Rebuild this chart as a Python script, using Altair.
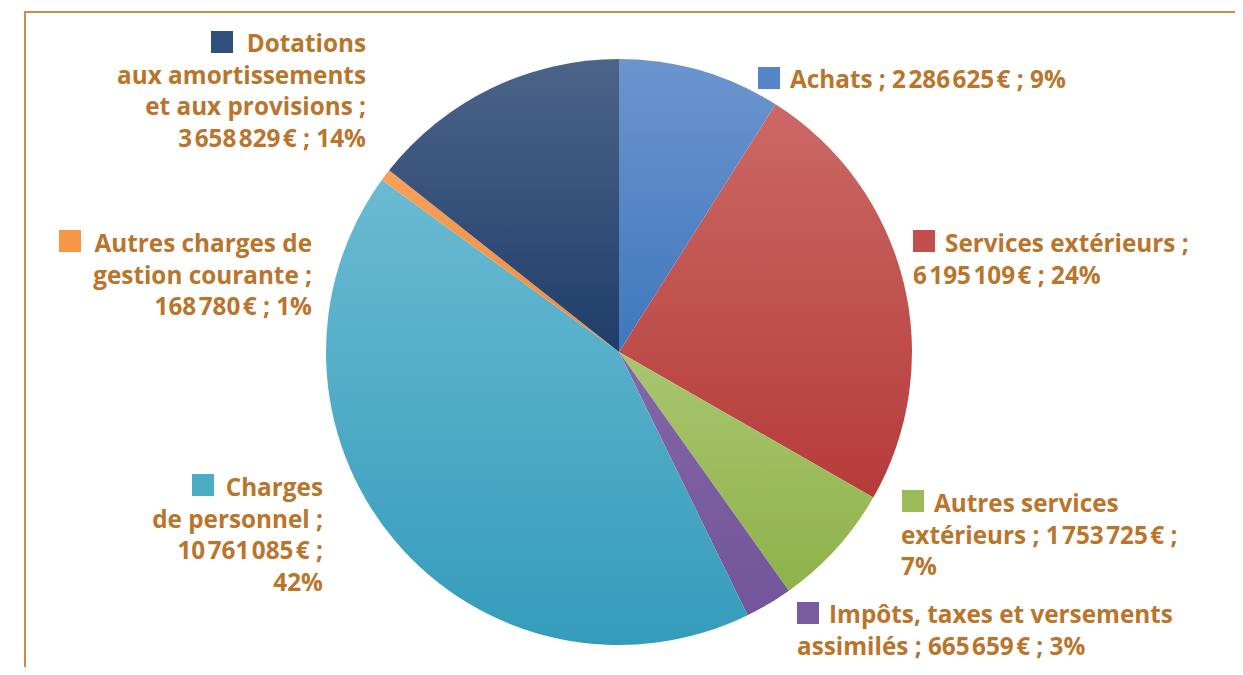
import altair as alt
import pandas as pd

# ---------------- data ----------------
categories = [
    "Achats",
    "Services extérieurs",
    "Autres services extérieurs",
    "Impôts, taxes et versements assimilés",
    "Charges de personnel",
    "Autres charges de gestion courante",
    "Dotations aux amortissements et aux provisions",
]
values = [2286625, 6195109, 1753725, 665659, 10761085, 168780, 3658829]
percents = ["9%", "24%", "7%", "3%", "42%", "1%", "14%"]

NS = " "       # space before semicolons
HS = "\u200a"  # hair space used as digit-group separator
label_lines = [
    [f"Achats{NS}; 2{HS}286{HS}625{HS}€{NS}; 9%"],
    [f"Services extérieurs{NS};", f"6{HS}195{HS}109{HS}€{NS}; 24%"],
    ["Autres services", f"extérieurs{NS}; 1{HS}753{HS}725{HS}€{NS};", "7%"],
    ["Impôts, taxes et versements", f"assimilés{NS}; 665{HS}659{HS}€{NS}; 3%"],
    ["Charges", f"de personnel{NS};", f"10{HS}761{HS}085{HS}€{NS};", "42%"],
    ["Autres charges de", f"gestion courante{NS};", f"168{HS}780{HS}€{NS}; 1%"],
    ["Dotations", "aux amortissements", f"et aux provisions{NS};", f"3{HS}658{HS}829{HS}€{NS}; 14%"],
]

# ---------------- styles / layout ----------------
flat_colors = ["#5585C6", "#C24F4C", "#9BBB59", "#7B5BA0", "#4BACC6", "#F79646", "#2F4F7C"]
grad_top = ["#6C95CF", "#CB6966", "#A9C66F", "#8467A8", "#6BBAD2", "#F9A05A", "#4D6489"]
grad_bot = ["#3F77BD", "#B63B39", "#8FB24A", "#72559A", "#349CBB", "#EF8B3A", "#1F3D6A"]
TEXT_COLOR = "#B9752C"
FONT = "Open Sans"
FS = 24.3
LH = 31.5

W, H = 1227, 659
CX, CY, R = 611, 344, 293

# per label: (align, anchor_x, first_baseline, square_left, square_top)
# coordinates are view pixels (page minus 8px margin)
label_layout = [
    ("left", 782, 80, 750, 59),
    ("left", 905, 244, 905, 222),
    ("left", 893, 504, 894, 482),
    ("left", 789, 615, 789, 594),
    ("right", 315, 488, 184, 466),
    ("right", 304, 244, 51, 222),
    ("right", 358, 44, 203, 23),
]
SQ = 22
GAP = 10

total = sum(values)
df = pd.DataFrame({"cat": categories, "value": values, "order": list(range(len(values)))})

base = (
    alt.Chart(df)
    .transform_window(cum="sum(value)", frame=[None, 0], sort=[alt.SortField("order")])
    .transform_calculate(start="datum.cum - datum.value")
)

layers = []
for i, c in enumerate(categories):
    grad = alt.Gradient(
        gradient="linear",
        stops=[
            alt.GradientStop(color=grad_top[i], offset=0),
            alt.GradientStop(color=grad_bot[i], offset=1),
        ],
        x1=0, x2=0, y1=0, y2=1,
    )
    arc = (
        base.transform_filter(alt.datum.cat == c)
        .mark_arc(radius=R, fill=grad, stroke=None)
        .encode(
            theta=alt.Theta("start:Q", scale=alt.Scale(domain=[0, total], range=[0, 6.283185307179586])),
            theta2="cum:Q",
            x=alt.value(CX),
            y=alt.value(CY),
        )
    )
    layers.append(arc)

# legend squares and text lines
sq_rows = []
txt_rows = []
for i, c in enumerate(categories):
    align, ax, by, sx, sy = label_layout[i]
    sq_rows.append({"cat": c, "x": sx, "x2": sx + SQ, "y": sy, "y2": sy + SQ, "col": flat_colors[i]})
    for j, line in enumerate(label_lines[i]):
        x = ax
        if align == "left" and j == 0:
            x = sx + SQ + GAP
        txt_rows.append({"t": line, "x": x, "y": by + j * LH, "align": align})

sq_df = pd.DataFrame(sq_rows)
squares = (
    alt.Chart(sq_df)
    .mark_rect()
    .encode(
        x=alt.X("x:Q", scale=None, axis=None),
        x2="x2:Q",
        y=alt.Y("y:Q", scale=None, axis=None),
        y2="y2:Q",
        fill=alt.Fill("col:N", scale=None, legend=None),
    )
)

txt_df = pd.DataFrame(txt_rows)
texts = []
for al in ["left", "right"]:
    texts.append(
        alt.Chart(txt_df[txt_df["align"] == al])
        .mark_text(align=al, baseline="alphabetic", font=FONT, fontSize=FS, fontWeight="bold", color=TEXT_COLOR)
        .encode(
            x=alt.X("x:Q", scale=None, axis=None),
            y=alt.Y("y:Q", scale=None, axis=None),
            text="t:N",
        )
    )

frame = (
    alt.Chart(pd.DataFrame({"a": [0]}))
    .mark_rect(fill=None, stroke="#CF8C47", strokeWidth=2)
    .encode(x=alt.value(17), x2=alt.value(1228), y=alt.value(4), y2=alt.value(720))
)

chart = (
    alt.layer(frame, *layers, squares, *texts)
    .properties(width=W, height=H, padding=0, autosize=alt.AutoSizeParams(type="none"))
    .configure_view(stroke=None)
)

chart.save("out.html", embed_options={"renderer": "svg", "actions": False})
